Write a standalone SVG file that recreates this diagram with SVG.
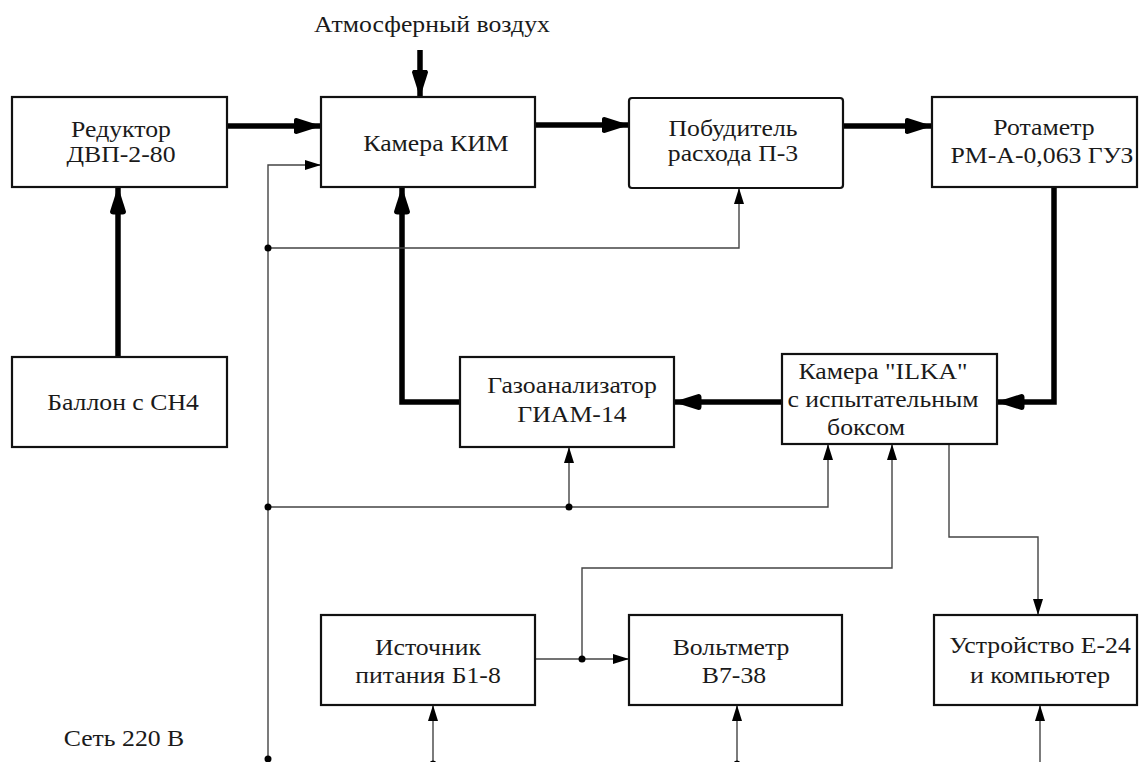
<svg xmlns="http://www.w3.org/2000/svg" width="1140" height="762" viewBox="0 0 1140 762">
<style>
.box{fill:#fff;stroke:#111;stroke-width:2.2}
.lbl{font-family:"Liberation Serif","Times New Roman",serif;font-size:23px;fill:#1a1a1a;text-anchor:middle}
.thick{fill:none;stroke:#000;stroke-width:5.5;stroke-linejoin:miter}
.thin{fill:none;stroke:#444;stroke-width:1.4}
.dot{fill:#000}
</style>
<defs>
<marker id="big" markerUnits="userSpaceOnUse" markerWidth="28" markerHeight="18" viewBox="0 0 28 18" refX="27.5" refY="9" orient="auto">
<path d="M3,1 L28,9 L3,17 Q0,17 0,13.5 V4.5 Q0,1 3,1 Z" fill="#000"/>
</marker>
<marker id="sm" markerUnits="userSpaceOnUse" markerWidth="16" markerHeight="10" viewBox="0 0 16 10" refX="16" refY="5" orient="auto">
<path d="M0,0 L16,5 L0,10 Z" fill="#000"/>
</marker>
</defs>
<rect width="1140" height="762" fill="#fff"/>

<g id="connectors">
<path class="thick" d="M227,126 H321" marker-end="url(#big)"/>
<path class="thick" d="M535,125 H629" marker-end="url(#big)"/>
<path class="thick" d="M843,126 H932" marker-end="url(#big)"/>
<path class="thick" d="M420,50 V97" marker-end="url(#big)"/>
<path class="thick" d="M118,357 V187" marker-end="url(#big)"/>
<path class="thick" d="M1054,187 V402 H997" marker-end="url(#big)"/>
<path class="thick" d="M782,402 H674" marker-end="url(#big)"/>
<path class="thick" d="M460,402 H402 V187" marker-end="url(#big)"/>

<path class="thin" d="M268,759 V165 H321" marker-end="url(#sm)"/>
<path class="thin" d="M268,248 H739 V188" marker-end="url(#sm)"/>
<path class="thin" d="M268,507 H828 V444" marker-end="url(#sm)"/>
<path class="thin" d="M569,507 V447" marker-end="url(#sm)"/>
<path class="thin" d="M535,659 H629" marker-end="url(#sm)"/>
<path class="thin" d="M582,659 V568 H892 V444" marker-end="url(#sm)"/>
<path class="thin" d="M949,444 V537 H1038 V615" marker-end="url(#sm)"/>
<path class="thin" d="M433,766 V705" marker-end="url(#sm)"/>
<path class="thin" d="M737,766 V705" marker-end="url(#sm)"/>
<path class="thin" d="M1040,766 V705" marker-end="url(#sm)"/>

<circle class="dot" cx="268" cy="248" r="3.5"/>
<circle class="dot" cx="268" cy="507" r="3.5"/>
<circle class="dot" cx="569" cy="507" r="3.5"/>
<circle class="dot" cx="582" cy="659" r="3.5"/>
<circle class="dot" cx="268" cy="759" r="3.5"/>
<circle class="dot" cx="433" cy="764" r="3.5"/>
<circle class="dot" cx="737" cy="764" r="3.5"/>
</g>

<g id="atm-label">
<text class="lbl" transform="translate(432,32) scale(1.12,1)">Атмосферный воздух</text>
</g>
<g id="net-label">
<text class="lbl" transform="translate(124,746) scale(1.12,1)">Сеть 220 В</text>
</g>

<g id="reductor">
<rect class="box" x="12" y="97" width="215" height="90"/>
<text class="lbl" transform="translate(121,137) scale(1.12,1)">Редуктор</text>
<text class="lbl" transform="translate(121,162) scale(1.12,1)">ДВП-2-80</text>
</g>
<g id="kim">
<rect class="box" x="321" y="97" width="214" height="90"/>
<text class="lbl" transform="translate(436,151) scale(1.12,1)">Камера КИМ</text>
</g>
<g id="pobuditel">
<rect class="box" x="629" y="98" width="214" height="90" rx="3"/>
<text class="lbl" transform="translate(733,136) scale(1.12,1)">Побудитель</text>
<text class="lbl" transform="translate(733,161) scale(1.12,1)">расхода П-3</text>
</g>
<g id="rotametr">
<rect class="box" x="932" y="97" width="205" height="90"/>
<text class="lbl" transform="translate(1044,135) scale(1.12,1)">Ротаметр</text>
<text class="lbl" transform="translate(1042,163) scale(1.12,1)">РМ-А-0,063 ГУЗ</text>
</g>
<g id="ballon">
<rect class="box" x="12" y="357" width="215" height="90"/>
<text class="lbl" transform="translate(123,410) scale(1.12,1)">Баллон с СН4</text>
</g>
<g id="gazoanalizator">
<rect class="box" x="460" y="357" width="214" height="90"/>
<text class="lbl" transform="translate(572,393) scale(1.12,1)">Газоанализатор</text>
<text class="lbl" transform="translate(572,422) scale(1.12,1)">ГИАМ-14</text>
</g>
<g id="ilka">
<rect class="box" x="782" y="354" width="215" height="90"/>
<text class="lbl" transform="translate(883,379) scale(1.12,1)">Камера "ILKA"</text>
<text class="lbl" transform="translate(883,407) scale(1.12,1)">с испытательным</text>
<text class="lbl" transform="translate(866,435) scale(1.12,1)">боксом</text>
</g>
<g id="istochnik">
<rect class="box" x="321" y="615" width="214" height="90"/>
<text class="lbl" transform="translate(428,655) scale(1.12,1)">Источник</text>
<text class="lbl" transform="translate(428,683) scale(1.12,1)">питания Б1-8</text>
</g>
<g id="voltmetr">
<rect class="box" x="629" y="615" width="213" height="90"/>
<text class="lbl" transform="translate(731,655) scale(1.12,1)">Вольтметр</text>
<text class="lbl" transform="translate(734,683) scale(1.12,1)">В7-38</text>
</g>
<g id="ustroystvo">
<rect class="box" x="934" y="615" width="203" height="90"/>
<text class="lbl" transform="translate(1040,653) scale(1.12,1)">Устройство Е-24</text>
<text class="lbl" transform="translate(1040,683) scale(1.12,1)">и компьютер</text>
</g>
</svg>
